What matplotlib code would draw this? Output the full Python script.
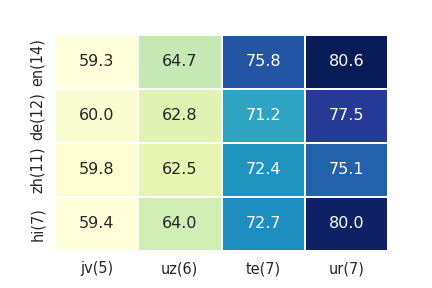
import matplotlib

matplotlib.use("Agg")
import matplotlib.pyplot as plt  # noqa: E402
import numpy as np  # noqa: E402
import seaborn as sns  # noqa: E402

ROW_LABELS = ["en(14)", "de(12)", "zh(11)", "hi(7)"]
COL_LABELS = ["jv(5)", "uz(6)", "te(7)", "ur(7)"]
SCORES = np.array([
    [59.3, 64.7, 75.8, 80.6],
    [60.0, 62.8, 71.2, 77.5],
    [59.8, 62.5, 72.4, 75.1],
    [59.4, 64.0, 72.7, 80.0],
])

sns.set_theme(style="white")

fig = plt.figure(figsize=(6, 4), dpi=72)
ax = fig.add_axes([55 / 432, 1 - 251 / 288, 333 / 432, 216 / 288])
sns.heatmap(
    SCORES,
    ax=ax,
    annot=True,
    fmt=".1f",
    cmap="YlGnBu",
    cbar=False,
    linewidths=1.5,
    linecolor="white",
    xticklabels=COL_LABELS,
    yticklabels=ROW_LABELS,
    annot_kws={"fontsize": 16},
)
ax.tick_params(labelsize=14.5, length=0, pad=10)
fig.savefig("out.png", dpi=72)
